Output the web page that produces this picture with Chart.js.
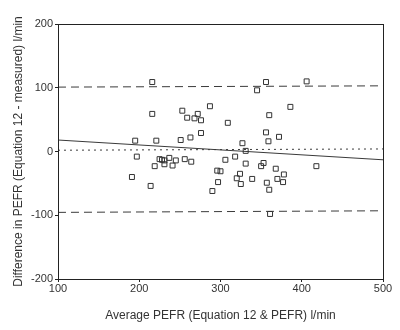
<!DOCTYPE html>
<html>
<head>
<meta charset="utf-8">
<script src="https://cdn.jsdelivr.net/npm/chart.js@4/dist/chart.umd.min.js"></script>
<style>
  html, body { margin: 0; padding: 0; background: #fff; }
</style>
</head>
<body>
<canvas id="bland" width="400" height="330"></canvas>
<script>
// average PEFR (l/min) and difference (Equation 12 - measured)
const avgPefr = [
  216, 216, 253, 259, 195, 221, 251, 263, 197, 225, 228, 231, 237, 245, 256,
  219, 231, 241, 191, 214, 356, 345, 287, 272, 268, 276, 309, 360, 276, 356,
  372, 359, 327, 406, 386, 331, 418, 264, 306, 318, 331, 353, 350, 368, 296,
  300, 324, 378, 320, 339, 370, 297, 325, 357, 377, 290, 360, 361,
];
const diffPefr = [
  109, 59, 64, 53, 17, 17, 18, 22, -8, -12, -13, -14, -10, -14, -12,
  -23, -20, -22, -40, -54, 109, 96, 71, 59, 52, 49, 45, 57, 29, 30,
  23, 16, 13, 110, 70, 1, -23, -16, -13, -8, -19, -18, -23, -27, -30,
  -31, -35, -36, -42, -43, -43, -48, -51, -49, -48, -62, -60, -98,
];

// reference lines: [x, y] ends
const regressionLine = [[100, 18], [500, -13]];
const meanLine = [[100, 2], [500, 4]];
const upperLimit = [[100, 101], [500, 103]];
const lowerLimit = [[100, -95.5], [500, -93]];

const xTicks = [100, 200, 300, 400, 500];
const yTicks = [-200, -100, 0, 100, 200];

const FONT = 'Liberation Sans, Arial, sans-serif';
const LINE = '#3a3a3a';

const toPoints = (pairs) => pairs.map(([x, y]) => ({ x, y }));

const frame = {
  id: 'frame',
  afterDatasetsDraw(chart) {
    const { ctx, chartArea: a } = chart;
    ctx.save();
    ctx.strokeStyle = '#222';
    ctx.lineWidth = 1;
    ctx.strokeRect(Math.round(a.left) + 0.5, Math.round(a.top) + 0.5,
      Math.round(a.right - a.left), Math.round(a.bottom - a.top));
    ctx.restore();
  },
};

function refLine(pairs, dash) {
  return {
    type: 'line',
    data: toPoints(pairs),
    borderColor: LINE,
    borderWidth: 1,
    borderDash: dash,
    pointRadius: 0,
    fill: false,
  };
}

// eslint-disable-next-line no-new
new Chart(document.getElementById('bland'), {
  type: 'scatter',
  data: {
    datasets: [
      {
        data: avgPefr.map((x, i) => ({ x, y: diffPefr[i] })),
        pointStyle: 'rect',
        pointRadius: 3.5,
        borderColor: '#333',
        borderWidth: 1,
        backgroundColor: 'rgba(255,255,255,0)',
      },
      refLine(regressionLine, []),
      refLine(meanLine, [2, 4]),
      refLine(upperLimit, [8, 5]),
      refLine(lowerLimit, [8, 5]),
    ],
  },
  plugins: [frame],
  options: {
    responsive: false,
    animation: false,
    layout: { padding: { left: 0, right: 17, top: 24, bottom: 0 } },
    plugins: {
      legend: { display: false },
      tooltip: { enabled: false },
    },
    scales: {
      x: {
        type: 'linear',
        min: 100,
        max: 500,
        afterFit(scale) { scale.height = 51; },
        afterBuildTicks(scale) { scale.ticks = xTicks.map((value) => ({ value })); },
        grid: {
          drawOnChartArea: false,
          tickLength: 3,
          tickColor: '#222',
        },
        border: { color: '#222' },
        ticks: {
          padding: 0,
          color: '#333',
          font: { family: FONT, size: 11 },
        },
        title: {
          display: true,
          text: 'Average PEFR (Equation 12 & PEFR) l/min',
          color: '#333',
          font: { family: FONT, size: 12 },
          padding: { top: 0, bottom: 7 },
        },
      },
      y: {
        type: 'linear',
        min: -200,
        max: 200,
        afterFit(scale) { scale.width = 58; },
        afterBuildTicks(scale) { scale.ticks = yTicks.map((value) => ({ value })); },
        grid: {
          drawOnChartArea: false,
          tickLength: 3,
          tickColor: '#222',
        },
        border: { color: '#222' },
        ticks: {
          padding: 2,
          color: '#333',
          font: { family: FONT, size: 11 },
        },
        title: {
          display: true,
          text: 'Difference in PEFR (Equation 12 - measured) l/min',
          color: '#333',
          font: { family: FONT, size: 12 },
          padding: { top: 11, bottom: 0 },
        },
      },
    },
  },
});
</script>
</body>
</html>
